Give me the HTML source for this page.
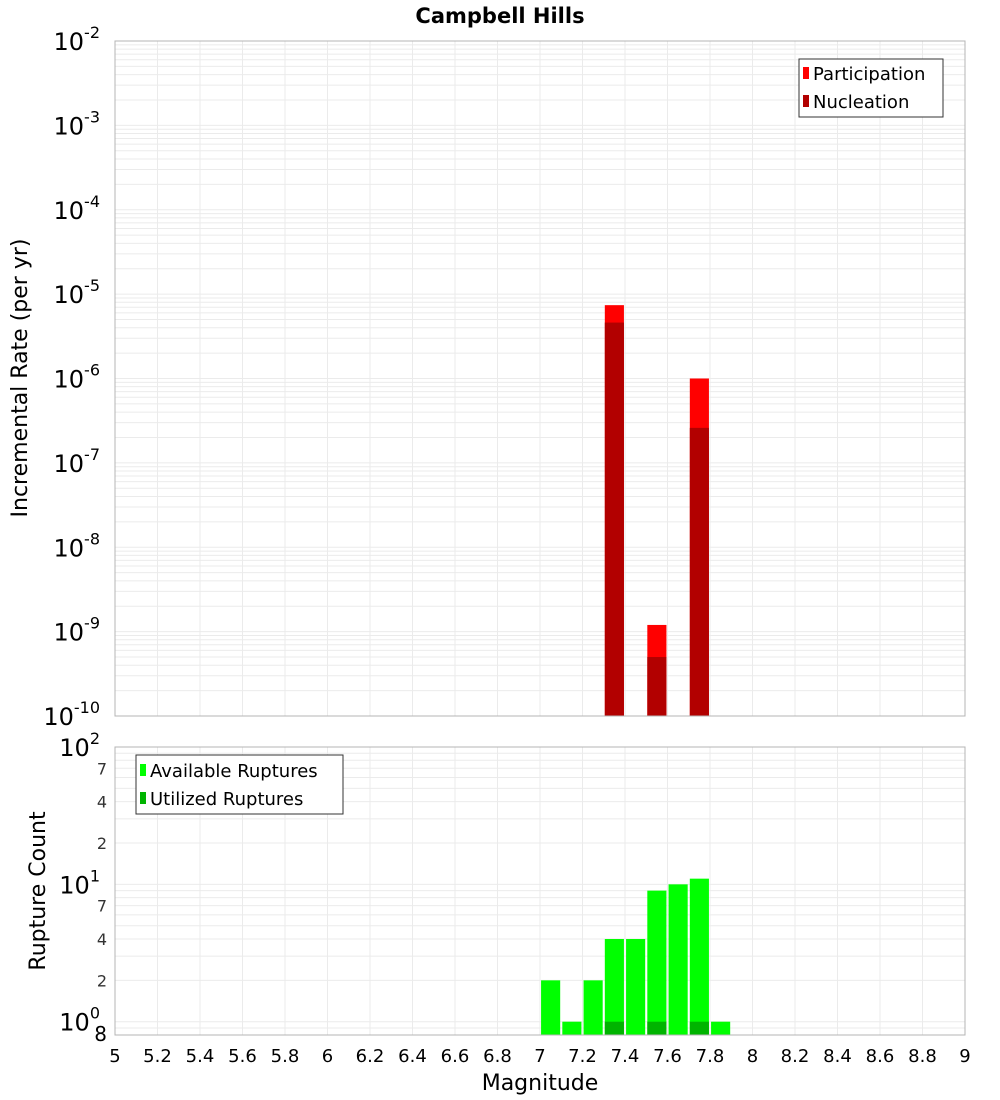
<!DOCTYPE html>
<html><head><meta charset="utf-8"><style>
body{margin:0;background:#fff;}
svg{display:block;font-family:"DejaVu Sans","Liberation Sans",sans-serif;}
</style></head><body>
<svg id="chart" width="1000" height="1100" viewBox="0 0 1000 1100" xmlns="http://www.w3.org/2000/svg">
<text x="500" y="23" text-anchor="middle" font-weight="bold" font-size="21">Campbell Hills</text>
<g id="topg"></g>
<g id="botg"></g>
<text transform="translate(27,378) rotate(-90)" text-anchor="middle" font-size="22">Incremental Rate (per yr)</text>
<text transform="translate(45,891) rotate(-90)" text-anchor="middle" font-size="22">Rupture Count</text>
<text x="540" y="1090" text-anchor="middle" font-size="22">Magnitude</text>
<g>
<rect x="799" y="59" width="144" height="58" fill="#fff" stroke="#333"/>
<rect x="803" y="67" width="6" height="12" fill="#ff0000"/>
<text x="813" y="80" font-size="18">Participation</text>
<rect x="803" y="95" width="6" height="12" fill="#b20000"/>
<text x="813" y="108" font-size="18">Nucleation</text>
</g>
<g>
<rect x="136" y="755" width="207" height="59" fill="#fff" stroke="#333"/>
<rect x="140" y="764" width="6" height="12" fill="#00ff00"/>
<text x="150" y="777" font-size="18">Available Ruptures</text>
<rect x="140" y="792" width="6" height="12" fill="#00b400"/>
<text x="150" y="805" font-size="18">Utilized Ruptures</text>
</g>
</svg>
<script>
const rateMags=[7.35,7.55,7.75];
const participation=[7.4e-6,1.2e-9,1.0e-6];
const nucleation=[4.6e-6,5.0e-10,2.6e-7];
const countMags=[7.05,7.15,7.25,7.35,7.45,7.55,7.65,7.75,7.85];
const available=[2,1,2,4,4,9,10,11,1];
const utilizedMags=[7.35,7.55,7.75];
const utilized=[1,1,1];
const xTicks=[5,5.2,5.4,5.6,5.8,6,6.2,6.4,6.6,6.8,7,7.2,7.4,7.6,7.8,8,8.2,8.4,8.6,8.8,9];
const topDecades=[-2,-3,-4,-5,-6,-7,-8,-9,-10];
const botMinor=[2,4,7];

const NS="http://www.w3.org/2000/svg";
const X0=115,X1=965;
const xs=m=>X0+(m-5)/4*(X1-X0);
const TT=41,TB=716;
const yTop=v=>TT+(-2-Math.log10(v))/8*(TB-TT);
const BT=747,BB=1035,lmin=Math.log10(0.8),lmax=2;
const yBot=v=>BB-(Math.log10(v)-lmin)/(lmax-lmin)*(BB-BT);
function el(parent,tag,attrs,text){const e=document.createElementNS(NS,tag);for(const k in attrs)e.setAttribute(k,attrs[k]);if(text!==undefined)e.textContent=text;parent.appendChild(e);return e;}
const topG=document.getElementById('topg'),botG=document.getElementById('botg');

for(let d=-10;d<-2;d++)for(let k=1;k<10;k++){const y=yTop(k*Math.pow(10,d));const l=el(topG,'line',{x1:X0,x2:X1,y1:y,y2:y,stroke:'#ebebeb','stroke-width':1});

}
xTicks.forEach(t=>{const l=el(topG,'line',{x1:xs(t),x2:xs(t),y1:TT,y2:TB,stroke:'#ebebeb'});

});
for(let d=-1;d<2;d++)for(let k=1;k<10;k++){const v=k*Math.pow(10,d);if(v<0.8)continue;const y=yBot(v);const l=el(botG,'line',{x1:X0,x2:X1,y1:y,y2:y,stroke:'#ebebeb'});

}
xTicks.forEach(t=>{const l=el(botG,'line',{x1:xs(t),x2:xs(t),y1:BT,y2:BB,stroke:'#ebebeb'});

});

const bw=0.09;
rateMags.forEach((m,i)=>{
 const x=xs(m-bw/2),w=xs(m+bw/2)-x;
 let y=yTop(participation[i]);
 const r=el(topG,'rect',{x:x,y:y,width:w,height:TB-y,fill:'#ff0000'});
 
 
 y=yTop(nucleation[i]);
 const r2=el(topG,'rect',{x:x,y:y,width:w,height:TB-y,fill:'#b20000'});
 
 
});
countMags.forEach((m,i)=>{
 const x=xs(m-bw/2),w=xs(m+bw/2)-x,y=yBot(available[i]);
 const r=el(botG,'rect',{x:x,y:y,width:w,height:BB-y,fill:'#00ff00'});
 
 
});
utilizedMags.forEach((m,i)=>{
 const x=xs(m-bw/2),w=xs(m+bw/2)-x,y=yBot(utilized[i]);
 const r=el(botG,'rect',{x:x,y:y,width:w,height:BB-y,fill:'#00b400'});
 
 
});
const f1=el(topG,'rect',{x:X0,y:TT,width:X1-X0,height:TB-TT,fill:'none',stroke:'#b4b4b4'});


const f2=el(botG,'rect',{x:X0,y:BT,width:X1-X0,height:BB-BT,fill:'none',stroke:'#b4b4b4'});



topDecades.forEach(d=>{const y=yTop(Math.pow(10,d));
 const t=el(topG,'text',{x:100,y:y+9,'text-anchor':'end','font-size':24});
 
 
 el(t,'tspan',{},'10');
 el(t,'tspan',{dy:-12,'font-size':16},String(d));
});
[0,1,2].forEach(d=>{const y=yBot(Math.pow(10,d));
 const t=el(botG,'text',{x:100,y:y+9,'text-anchor':'end','font-size':24});
 
 
 el(t,'tspan',{},'10');
 el(t,'tspan',{dy:-12,'font-size':16},String(d));
});
[0,1].forEach(d=>botMinor.forEach(k=>{const y=yBot(k*Math.pow(10,d));
 const t=el(botG,'text',{x:107,y:y+6,'text-anchor':'end','font-size':16,fill:'#333'},String(k));
 
 
}));
const t8=el(botG,'text',{x:107,y:1041,'text-anchor':'end','font-size':20},'8');


xTicks.forEach(t=>{const tx=el(botG,'text',{x:xs(t),y:1062,'text-anchor':'middle','font-size':18},String(t));
 
 });
</script>
</body></html>
